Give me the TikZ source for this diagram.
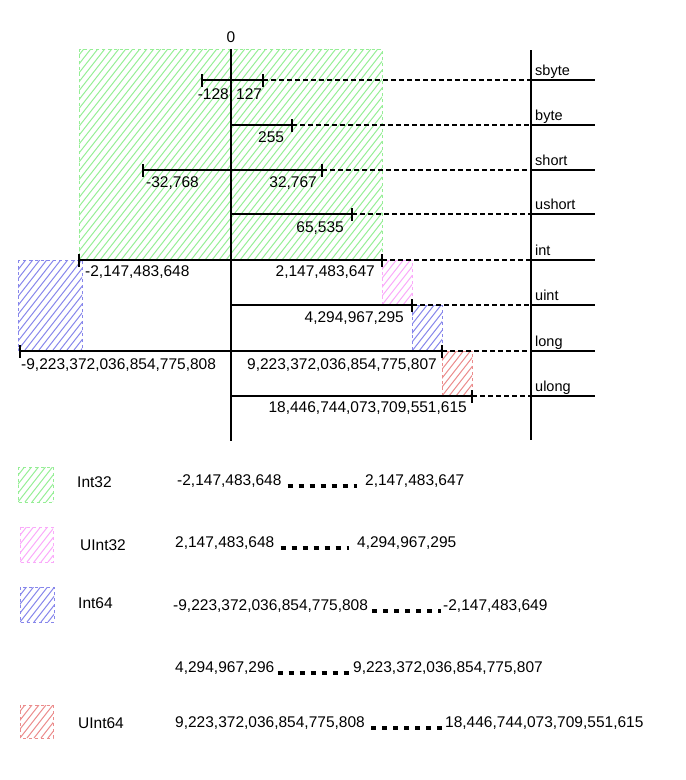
\documentclass[tikz,border=0pt]{standalone}
\usepackage{fontspec}
\setmainfont{Liberation Sans}
\definecolor{hgreen}{RGB}{150,238,150}
\definecolor{hpink}{RGB}{250,170,250}
\definecolor{hblue}{RGB}{135,135,235}
\definecolor{hred}{RGB}{235,140,140}
\tikzset{
  hatch/.style={draw=#1, dashed, line width=0.9pt,
    path picture={\foreach \i in {-34,...,50} \draw[#1, solid, line width=1pt] ([xshift=\i*7pt]path picture bounding box.south west) -- ++(330,-420);}},
  rng/.style={line width=1.6pt},
  endtick/.style={line width=1.4pt},
  link/.style={line width=1.3pt, dash pattern=on 5pt off 3pt},
  axisline/.style={line width=1.5pt},
  typeline/.style={line width=1.4pt},
  lbl/.style={inner sep=0pt, font=\fontsize{15.5}{18}\selectfont},
  tlbl/.style={inner sep=0pt, font=\fontsize{14.5}{17}\selectfont, anchor=base west},
  dots/.style={line width=4pt, dash pattern=on 5pt off 6pt},
}
\begin{document}
\begin{tikzpicture}[x=1pt,y=-1pt]
\useasboundingbox (0,0) rectangle (686,780);
% hatched regions
\draw[hatch=hgreen] (79,49) rectangle (382,260);
\draw[hatch=hblue] (18,260) rectangle (82,350);
\draw[hatch=hpink] (382,260) rectangle (412,305);
\draw[hatch=hblue] (412,305) rectangle (442,351);
\draw[hatch=hred] (442,351) rectangle (472,396);
% axes
\coordinate (ax-top) at (231,49);
\coordinate (ax-bot) at (231,441);
\coordinate (rl-top) at (531,50);
\coordinate (rl-bot) at (531,440);
\node[lbl] (zero) at (231,37) {0};
\draw[axisline] (ax-top) -- (ax-bot);
\draw[axisline] (rl-top) -- (rl-bot);
% ranges
\foreach \n/\y/\l/\r/\t in {sb/80/202/263/sbyte, by/125/231/292/byte, sh/170/143/322/short, us/214/231/352/ushort, in/260/79/382/int, ui/305/231/412/uint, lo/351/20/442/long, ul/396/231/472/ulong} {
  \coordinate (\n-l) at (\l,\y);
  \coordinate (\n-r) at (\r,\y);
  \coordinate (\n-t) at (531,\y);
  \coordinate (\n-e) at (595,\y);
  \draw[rng] (\n-l) -- (\n-r);
  \draw[endtick] ([yshift=6pt]\n-l) -- ([yshift=-7pt]\n-l);
  \draw[endtick] ([yshift=6pt]\n-r) -- ([yshift=-7pt]\n-r);
  \draw[link] (\n-r) -- (\n-t);
  \draw[typeline] (\n-t) -- (\n-e);
  \node[tlbl] (\n-name) at (535,\y-5) {\t};
}
% endpoint labels
\node[lbl,anchor=east] (sb-min) at (229,94) {-128};
\node[lbl,anchor=west] (sb-max) at (236,94) {127};
\node[lbl,anchor=west] (by-max) at (258,137) {255};
\node[lbl,anchor=west] (sh-min) at (146,183) {-32,768};
\node[lbl,anchor=east] (sh-max) at (317,183) {32,767};
\node[lbl,anchor=east] (us-max) at (344,228) {65,535};
\node[lbl,anchor=west] (in-min) at (85,272) {-2,147,483,648};
\node[lbl,anchor=east] (in-max) at (375,272) {2,147,483,647};
\node[lbl,anchor=east] (ui-max) at (404,318) {4,294,967,295};
\node[lbl,anchor=west] (lo-min) at (21,365) {-9,223,372,036,854,775,808};
\node[lbl,anchor=east] (lo-max) at (437,365) {9,223,372,036,854,775,807};
\node[lbl,anchor=east] (ul-max) at (467,408) {18,446,744,073,709,551,615};
% legend swatches
\draw[hatch=hgreen] (18,467) rectangle (53,502);
\draw[hatch=hpink] (20,527) rectangle (53,562);
\draw[hatch=hblue] (20,587) rectangle (54,622);
\draw[hatch=hred] (20,705) rectangle (53,738);
% legend labels
\node[lbl,anchor=west] (k1) at (77,482) {Int32};
\node[lbl,anchor=west] (k2) at (80,545) {UInt32};
\node[lbl,anchor=west] (k3) at (78,603) {Int64};
\node[lbl,anchor=west] (k5) at (78,723) {UInt64};
% legend ranges
\node[lbl,anchor=west] (r1a) at (177,481) {-2,147,483,648};
\node[lbl,anchor=west] (r1b) at (365,481) {2,147,483,647};
\node[lbl,anchor=west] (r2a) at (175,543) {2,147,483,648};
\node[lbl,anchor=west] (r2b) at (357,543) {4,294,967,295};
\node[lbl,anchor=west] (r3a) at (173,606) {-9,223,372,036,854,775,808};
\node[lbl,anchor=west] (r3b) at (443,606) {-2,147,483,649};
\node[lbl,anchor=west] (r4a) at (175,668) {4,294,967,296};
\node[lbl,anchor=west] (r4b) at (353,668) {9,223,372,036,854,775,807};
\node[lbl,anchor=west] (r5a) at (175,723) {9,223,372,036,854,775,808};
\node[lbl,anchor=west] (r5b) at (445,723) {18,446,744,073,709,551,615};
\draw[dots] ([xshift=6pt,yshift=-1pt]r1a.base east) -- ([xshift=-8pt,yshift=-1pt]r1b.base west);
\draw[dots] ([xshift=6pt,yshift=-1pt]r2a.base east) -- ([xshift=-8pt,yshift=-1pt]r2b.base west);
\draw[dots] ([xshift=4pt,yshift=-1pt]r3a.base east) -- ([xshift=-2pt,yshift=-1pt]r3b.base west);
\draw[dots] ([xshift=3pt,yshift=-1pt]r4a.base east) -- ([xshift=-4pt,yshift=-1pt]r4b.base west);
\draw[dots] ([xshift=6pt,yshift=-1pt]r5a.base east) -- ([xshift=-2pt,yshift=-1pt]r5b.base west);
\end{tikzpicture}
\end{document}
